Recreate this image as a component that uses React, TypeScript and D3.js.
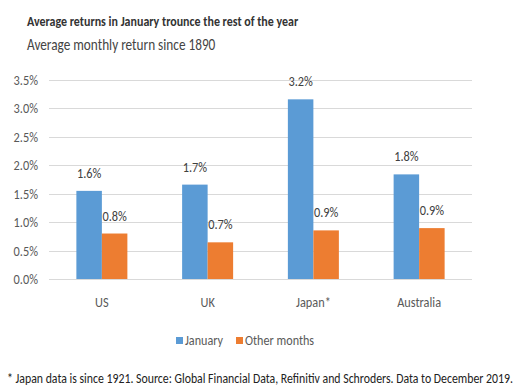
import React, { useEffect, useRef } from 'react';
import * as d3 from 'd3';

const countries = ['US', 'UK', 'Japan*', 'Australia'];
const january = [1.55, 1.66, 3.16, 1.84];
const otherMonths = [0.8, 0.645, 0.855, 0.895];
const januaryLabels = ['1.6%', '1.7%', '3.2%', '1.8%'];
const otherLabels = ['0.8%', '0.7%', '0.9%', '0.9%'];
const yTicks = [0, 0.5, 1, 1.5, 2, 2.5, 3, 3.5];
const seriesNames = ['January', 'Other months'];
const colors = ['#5b9bd5', '#ed7d31'];

const FONT = "Carlito, 'Liberation Sans Narrow', 'Open Sans', sans-serif";
// the source picture is a bit squeezed sideways, so text is narrowed too
const SQUEEZE = 0.85;

const App = () => {
  const svgRef = useRef<SVGSVGElement>(null);

  useEffect(() => {
    const svg = d3.select(svgRef.current);
    svg.selectAll('*').remove();
    const width = 530;
    const height = 390;
    const margin = { top: 80, right: 58, bottom: 111, left: 49 };

    svg.attr('width', width).attr('height', height).style('font-family', FONT);
    svg.append('rect').attr('width', width).attr('height', height).attr('fill', '#fff');

    const label = (
      parent: d3.Selection<any, any, any, any>,
      x: number,
      y: number,
      str: string,
      size: number,
      fill: string,
      anchor = 'start',
      weight = 'normal',
    ) => {
      parent
        .append('text')
        .attr('transform', `translate(${x},${y}) scale(${SQUEEZE},1)`)
        .attr('text-anchor', anchor)
        .text(str)
        .style('font-size', size + 'px')
        .style('font-weight', weight)
        .style('fill', fill);
    };

    // titles
    label(svg, 27, 26, 'Average returns in January trounce the rest of the year', 14.1, '#333', 'start', 'bold');
    label(svg, 27, 49.5, 'Average monthly return since 1890', 15.6, '#444');

    const x = d3
      .scaleBand()
      .domain(countries)
      .range([margin.left, width - margin.right]);

    const y = d3
      .scaleLinear()
      .domain([0, 3.5])
      .range([height - margin.bottom, margin.top]);

    const barW = 25.5;

    // gridlines + y labels
    const grid = svg.append('g');
    grid
      .selectAll('line')
      .data(yTicks)
      .enter()
      .append('line')
      .attr('x1', margin.left)
      .attr('x2', width - margin.right)
      .attr('y1', (d) => Math.round(y(d)) + 0.5)
      .attr('y2', (d) => Math.round(y(d)) + 0.5)
      .attr('stroke', '#d9d9d9')
      .attr('stroke-width', 1);
    yTicks.forEach((t) => label(grid, 38, y(t) + 5, t.toFixed(1) + '%', 14.5, '#595959', 'end'));

    const series = [january, otherMonths];
    const labels = [januaryLabels, otherLabels];

    series.forEach((vals, si) => {
      const g = svg.append('g');
      const bx = (i: number) => x(countries[i])! + x.bandwidth() / 2 - barW + si * barW;
      g.selectAll('rect')
        .data(vals)
        .enter()
        .append('rect')
        .attr('x', (d, i) => bx(i))
        .attr('y', (d) => y(d))
        .attr('width', barW)
        .attr('height', (d) => y(0) - y(d))
        .style('fill', colors[si]);
      vals.forEach((v, i) => label(g, bx(i) + barW / 2, y(v) - 13, labels[si][i], 14.5, '#404040', 'middle'));
    });

    // x labels
    const xg = svg.append('g');
    countries.forEach((c) => label(xg, x(c)! + x.bandwidth() / 2, 307, c, 14.5, '#595959', 'middle'));

    // legend
    const legend = svg.append('g');
    const legendX = [176, 236];
    seriesNames.forEach((name, i) => {
      legend
        .append('rect')
        .attr('x', legendX[i])
        .attr('y', 337)
        .attr('width', 7)
        .attr('height', 7)
        .style('fill', colors[i]);
      label(legend, legendX[i] + 9, 345, name, 14.3, '#595959');
    });

    label(
      svg,
      7,
      383,
      '* Japan data is since 1921. Source: Global Financial Data, Refinitiv and Schroders. Data to December 2019.',
      13.9,
      '#222',
    );
  }, []);

  return <svg ref={svgRef} style={{ position: 'absolute', left: 0, top: 0 }}></svg>;
};

export default App;
